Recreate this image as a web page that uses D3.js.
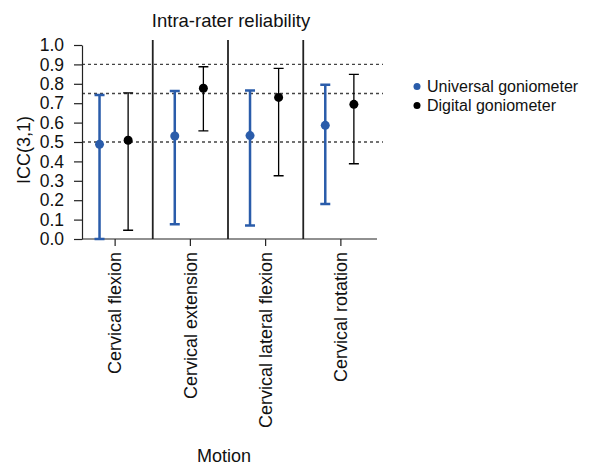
<!DOCTYPE html>
<html>
<head>
<meta charset="utf-8">
<script src="https://cdn.jsdelivr.net/npm/d3@7"></script>
<style>
  body { margin: 0; background: #fff; }
  text { font-family: "Liberation Sans", Arial, sans-serif; fill: #111; }
</style>
</head>
<body>
<script>
const motions = ['Cervical flexion', 'Cervical extension', 'Cervical lateral flexion', 'Cervical rotation'];
const universalIcc = [0.488, 0.531, 0.533, 0.586];
const universalLow = [0.0, 0.076, 0.070, 0.180];
const universalHigh = [0.742, 0.763, 0.766, 0.795];
const digitalIcc = [0.509, 0.777, 0.730, 0.694];
const digitalLow = [0.045, 0.557, 0.326, 0.388];
const digitalHigh = [0.753, 0.888, 0.880, 0.849];
const refLines = [0.5, 0.75, 0.9];
const yTicks = d3.range(0, 1.01, 0.1);

const width = 589, height = 466;
const margin = { top: 45, right: 212, bottom: 227, left: 82 };

const svg = d3.select('body').append('svg')
  .attr('width', width)
  .attr('height', height);

const x = d3.scaleBand()
  .domain(motions)
  .range([77.5, 378.5]);

const y = d3.scaleLinear()
  .domain([0, 1])
  .range([height - margin.bottom, margin.top]);

const series = [
  { name: 'Universal goniometer', color: '#2a5caa', sw: 2.5, dx: -15.6, icc: universalIcc, lo: universalLow, hi: universalHigh },
  { name: 'Digital goniometer', color: '#000', sw: 1.3, dx: 13, icc: digitalIcc, lo: digitalLow, hi: digitalHigh },
];

// separators between motions
svg.append('g')
  .selectAll('line')
  .data(motions.slice(1))
  .join('line')
  .attr('x1', d => x(d))
  .attr('x2', d => x(d))
  .attr('y1', 40)
  .attr('y2', y(0))
  .attr('stroke', '#222')
  .attr('stroke-width', 1.8);

// reference lines
svg.append('g')
  .selectAll('line')
  .data(refLines)
  .join('line')
  .attr('x1', margin.left)
  .attr('x2', 383)
  .attr('y1', d => y(d))
  .attr('y2', d => y(d))
  .attr('stroke', '#444')
  .attr('stroke-width', 1.3)
  .attr('stroke-dasharray', '3,3');

// axes
svg.append('g')
  .attr('transform', `translate(${margin.left},0)`)
  .call(d3.axisLeft(y).tickValues(yTicks).tickFormat(d3.format('.1f')).tickSize(8).tickPadding(10).tickSizeOuter(0))
  .call(g => g.selectAll('text').attr('font-size', 17.5).attr('fill', '#111'))
  .call(g => g.selectAll('line, path').attr('stroke', '#222').attr('stroke-width', 1.2));

svg.append('g')
  .attr('transform', `translate(0,${y(0)})`)
  .call(d3.axisBottom(x).tickSize(7).tickSizeOuter(0).tickFormat(''))
  .call(g => g.select('.domain').remove())
  .call(g => g.selectAll('line').attr('stroke', '#222').attr('stroke-width', 1.2))
  .append('line')
  .attr('x1', margin.left)
  .attr('x2', 377)
  .attr('stroke', '#222')
  .attr('stroke-width', 1.2);

svg.append('g')
  .selectAll('text')
  .data(motions)
  .join('text')
  .attr('transform', d => `translate(${x(d) + x.bandwidth() / 2},${y(0) + 13}) rotate(-90)`)
  .attr('text-anchor', 'end')
  .attr('dy', '0.35em')
  .attr('font-size', 18)
  .text(d => d);

// error bars and points
series.forEach(s => {
  const g = svg.append('g');
  const cx = (d, i) => x(motions[i]) + x.bandwidth() / 2 + s.dx;
  g.selectAll('path')
    .data(s.icc)
    .join('path')
    .attr('fill', 'none')
    .attr('stroke', s.color)
    .attr('stroke-width', s.sw)
    .attr('d', (d, i) => {
      const c = cx(d, i);
      return `M${c - 5},${y(s.hi[i])}H${c + 5}M${c},${y(s.hi[i])}V${y(s.lo[i])}M${c - 5},${y(s.lo[i])}H${c + 5}`;
    });
  g.selectAll('circle')
    .data(s.icc)
    .join('circle')
    .attr('cx', cx)
    .attr('cy', d => y(d))
    .attr('r', 4.5)
    .attr('fill', s.color);
});

// titles
svg.append('text')
  .attr('x', 231)
  .attr('y', 27)
  .attr('text-anchor', 'middle')
  .attr('font-size', 18.5)
  .text('Intra-rater reliability');

svg.append('text')
  .attr('transform', `translate(24,150) rotate(-90)`)
  .attr('text-anchor', 'middle')
  .attr('dy', '0.35em')
  .attr('font-size', 18)
  .text('ICC(3,1)');

svg.append('text')
  .attr('x', 224)
  .attr('y', 462)
  .attr('text-anchor', 'middle')
  .attr('font-size', 18)
  .text('Motion');

// legend
const legend = svg.append('g')
  .selectAll('g')
  .data(series)
  .join('g')
  .attr('transform', (d, i) => `translate(417,${86.5 + i * 19})`);
legend.append('circle').attr('r', 3.5).attr('fill', d => d.color);
legend.append('text')
  .attr('x', 10)
  .attr('dy', '0.35em')
  .attr('font-size', 16)
  .text(d => d.name);
</script>
</body>
</html>
